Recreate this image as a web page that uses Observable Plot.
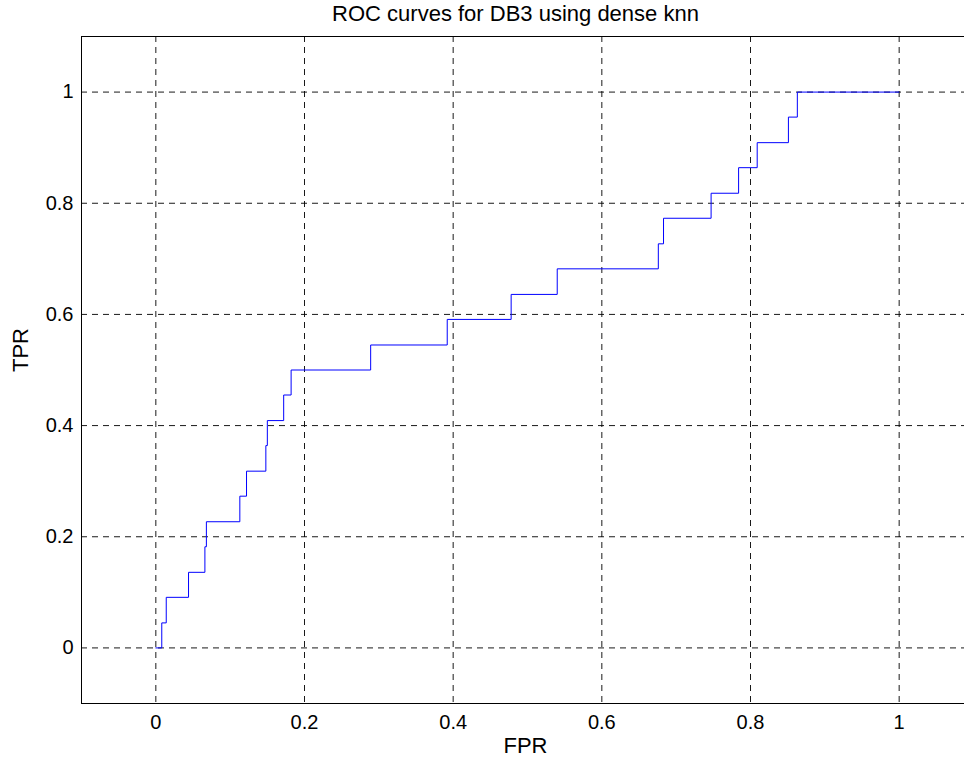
<!DOCTYPE html>
<html>
<head>
<meta charset="utf-8">
<script src="https://cdn.jsdelivr.net/npm/d3@7"></script>
<script src="https://cdn.jsdelivr.net/npm/@observablehq/plot@0.6"></script>
<style>
  html, body { margin: 0; padding: 0; background: #fff; overflow: hidden; }
  #chart { width: 964px; height: 759px; overflow: hidden; }
  #chart svg { max-width: none !important; }
</style>
</head>
<body>
<div id="chart"></div>
<script>
const title = "ROC curves for DB3 using dense knn";
const xLabel = "FPR";
const yLabel = "TPR";
const fpr = [0, 0.008, 0.014, 0.044, 0.066, 0.068, 0.113, 0.122, 0.148, 0.150, 0.172, 0.182, 0.289, 0.392, 0.478, 0.540, 0.676, 0.683, 0.747, 0.784, 0.809, 0.851, 0.863, 1.0];
const tpr = [0, 0.045, 0.091, 0.136, 0.182, 0.227, 0.273, 0.318, 0.364, 0.409, 0.455, 0.5, 0.545, 0.591, 0.636, 0.682, 0.727, 0.773, 0.818, 0.864, 0.909, 0.955, 1, 1];
const xTicks = [0, 0.2, 0.4, 0.6, 0.8, 1];
const yTicks = [0, 0.2, 0.4, 0.6, 0.8, 1];

const data = fpr.map((x, i) => ({fpr: x, tpr: tpr[i]}));
const font = "'Liberation Sans', Arial, Helvetica, sans-serif";

const chart = Plot.plot({
  width: 974,
  height: 759,
  marginLeft: 81,
  marginRight: 1,
  marginTop: 36,
  marginBottom: 56,
  x: {domain: [-0.1, 1.1]},
  y: {domain: [-0.1, 1.1]},
  style: {fontFamily: font, fontSize: "20px", background: "white", color: "black", maxWidth: "none"},
  marks: [
    Plot.gridX(xTicks, {stroke: "black", strokeOpacity: 0.9, strokeDasharray: "6,5", strokeWidth: 1}),
    Plot.gridY(yTicks, {stroke: "black", strokeOpacity: 0.9, strokeDasharray: "6,5", strokeWidth: 1}),
    Plot.frame({stroke: "black", strokeWidth: 1}),
    Plot.line(data, {x: "fpr", y: "tpr", curve: "step-after", stroke: "#0000ff", strokeWidth: 1}),
    Plot.axisX(xTicks, {tickSize: 0, tickPadding: 11, fontSize: 20, label: null, tickFormat: d => String(d)}),
    Plot.axisY(yTicks, {tickSize: 0, tickPadding: 8, fontSize: 20, label: null, tickFormat: d => String(d)}),
    Plot.text([xLabel], {frameAnchor: "bottom", lineAnchor: "middle", dy: 42, dx: -2, fontSize: 22}),
    Plot.text([yLabel], {frameAnchor: "left", lineAnchor: "middle", dx: -61, dy: 2, rotate: -90, fontSize: 22}),
    Plot.text([title], {frameAnchor: "top", lineAnchor: "middle", dy: -23, dx: -12, fontSize: 22})
  ]
});
document.getElementById("chart").appendChild(chart);
</script>
</body>
</html>
